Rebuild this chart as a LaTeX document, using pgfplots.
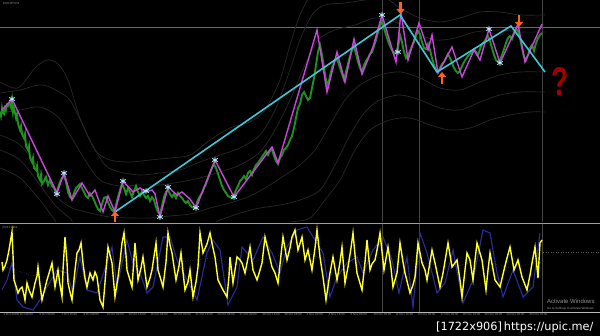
\documentclass[border=0pt]{standalone}
\usepackage{fontspec}
\setmainfont{Liberation Sans}
\newfontfamily\dejavu{DejaVu Sans}
\usepackage{pgfplots}
\pgfplotsset{compat=1.18}
\usetikzlibrary{arrows.meta}
\definecolor{cmag}{RGB}{204,68,221}
\definecolor{ccyan}{RGB}{64,200,216}
\definecolor{cgreen}{RGB}{30,145,30}
\definecolor{cstar}{RGB}{170,235,240}
\definecolor{corange}{RGB}{255,96,32}
\definecolor{cqred}{RGB}{160,0,0}
\definecolor{cband}{RGB}{40,40,40}
\definecolor{cyel}{RGB}{255,255,40}
\definecolor{cblue}{RGB}{44,44,160}
\definecolor{cgrid}{RGB}{70,70,70}
\definecolor{chline}{RGB}{105,105,105}
\definecolor{cdot}{RGB}{90,90,90}
\pgfplotsset{pix/.style={scale only axis, width=600pt, xmin=0, xmax=600, y dir=reverse,
  axis line style={draw=none}, xtick=\empty, ytick=\empty, clip=true}}
\begin{document}
\begin{tikzpicture}
% full frame
\begin{axis}[pix, height=336pt, ymin=0, ymax=336, at={(0,0)}, anchor=south west,
  axis background/.style={fill=black}]
\addplot[draw=gray!75, line width=1.3pt] coordinates {(0,223.5) (600,223.5)};
\addplot[draw=gray!55, line width=0.6pt] coordinates {(0,312.6) (600,312.6)};
\node[anchor=west, text=white, font=\dejavu\fontsize{11.3}{12}\selectfont, inner sep=0pt] at (axis cs:436,327) {[1722x906]\,https://upic.me/};
\end{axis}
% upper panel
\begin{axis}[pix, height=222pt, ymin=0, ymax=222, at={(0,114pt)}, anchor=south west]
\addplot[draw=chline, line width=0.6pt] coordinates {(0,27) (600,27)};
\addplot[draw=cgrid, line width=0.5pt] coordinates {(382,0) (382,222)};
\addplot[draw=cgrid, line width=0.5pt] coordinates {(419,0) (419,222)};
\addplot[draw=cgrid, line width=0.5pt] coordinates {(542,0) (542,222)};
% bands
\addplot[cband, line width=0.7pt, smooth] coordinates {(0,82)(18,88)(35,68)(47,60)(58,64)(68,80)(80,118)(95,150)(110,160)(130,162)(150,160)(170,158)(190,155)(210,140)(230,128)(250,122)(265,110)(280,80)(290,45)(300,15)(310,-5)};
\addplot[cband, line width=0.7pt, smooth] coordinates {(0,93)(20,90)(43,85)(67,97)(77,113)(90,140)(105,165)(120,172)(140,175)(160,173)(180,170)(200,162)(220,155)(240,148)(260,135)(275,110)(290,70)(300,40)(312,15)(325,5)(345,3)(365,0)(385,-2)(400,8)(420,18)(440,22)(460,18)(480,12)(500,12)(520,15)(545,15)};
\addplot[cband, line width=0.7pt, smooth] coordinates {(0,113)(20,110)(40,107)(58,117)(70,135)(85,160)(100,180)(120,186)(140,185)(160,185)(180,182)(200,178)(220,172)(240,165)(260,152)(275,130)(290,100)(305,65)(318,40)(335,30)(355,25)(375,18)(395,22)(415,32)(435,40)(455,38)(475,32)(500,30)(520,32)(545,32)};
\addplot[cband, line width=0.7pt, smooth] coordinates {(0,135)(20,145)(40,170)(55,195)(70,207)(90,213)(110,217)(130,218)(150,218)(170,216)(190,214)(210,208)(230,203)(250,196)(270,185)(285,175)(300,165)(315,150)(330,125)(345,100)(360,85)(380,75)(400,72)(420,78)(440,88)(460,90)(480,82)(500,75)(520,72)(545,72)};
\addplot[cband, line width=0.7pt, smooth] coordinates {(0,150)(20,160)(40,185)(55,205)(70,218)(85,225)(200,225)(220,220)(240,213)(260,208)(280,205)(300,200)(320,190)(335,165)(350,135)(365,112)(380,100)(400,95)(420,100)(440,108)(460,110)(480,102)(500,95)(520,92)(545,92)};
\addplot[cband, line width=0.7pt, smooth] coordinates {(0,168)(20,178)(40,200)(55,220)(65,228)(230,228)(260,225)(290,222)(310,218)(325,200)(340,180)(355,150)(370,130)(390,120)(410,118)(430,125)(450,130)(470,128)(490,120)(510,115)(530,112)(545,112)};
% price
\addplot[cgreen, line width=1.9pt] coordinates {
(0,112)(1,116)(2,108)(3,113)(4,114)(5,108)(6,110)(7,105)(8,106)(10,103)(11,107)(12,100)(13,112)(14,108)(16,118)(17,114)(18,124)(20,130)(21,126)(22,134)(24,138)(25,134)(26,146)(28,150)(29,146)(30,158)(32,162)(33,158)(34,168)(36,170)(37,166)(38,176)(40,180)(41,175)(42,184)(44,181)(46,177)(48,185)(50,180)(52,186)(54,188)(56,194)(58,188)(60,182)(62,178)(64,176)(66,182)(68,192)(70,197)(72,199)(74,193)(76,188)(78,186)(80,184)(82,188)(84,192)(86,196)(88,198)(90,193)(92,196)(94,200)(96,205)(98,209)(100,211)(102,204)(104,198)(106,197)(108,202)(110,207)(112,210)(114,212)(116,205)(118,197)(120,190)(122,184)(124,188)(126,194)(128,188)(130,192)(132,197)(134,191)(136,186)(138,192)(140,196)(142,191)(144,195)(146,198)(148,196)(150,201)(152,197)(154,200)(156,207)(158,212)(160,214)(162,206)(164,197)(166,192)(168,190)(170,194)(172,197)(174,194)(176,198)(178,193)(180,196)(182,198)(184,201)(186,203)(188,201)(190,205)(192,207)(194,208)(196,206)(198,200)(200,196)(202,193)(204,188)(206,184)(208,178)(210,173)(212,168)(214,164)(216,168)(218,174)(220,180)(222,186)(224,190)(226,193)(228,196)(230,197)(232,198)(234,195)(236,190)(238,186)(240,181)(242,179)(244,176)(246,179)(248,173)(250,171)(252,175)(254,169)(256,165)(258,163)(260,160)(262,157)(264,154)(266,151)(268,155)(270,151)(272,149)(274,156)(276,161)(278,164)(280,158)(282,155)(284,150)(286,148)(288,145)(290,140)(292,136)(294,128)(296,118)(298,108)(300,104)(302,95)(304,92)(306,96)(308,100)(310,98)(312,88)(314,78)(316,65)(318,52)(320,45)(322,55)(324,68)(326,80)(328,86)(330,76)(332,68)(334,63)(336,58)(338,62)(340,68)(342,74)(344,80)(346,72)(348,64)(350,56)(352,50)(354,46)(356,54)(358,62)(360,68)(362,72)(364,65)(366,61)(368,58)(370,54)(372,52)(374,46)(376,40)(378,32)(380,26)(382,21)(384,28)(386,35)(388,41)(390,46)(392,50)(394,54)(396,51)(398,48)(400,35)(402,42)(404,52)(406,58)(408,55)(410,51)(412,46)(414,42)(416,36)(418,31)(420,34)(422,42)(424,48)(426,49)(428,44)(430,50)(432,58)(434,65)(436,70)(438,72)(440,68)(442,64)(444,62)(446,58)(448,54)(450,58)(452,63)(454,68)(456,71)(458,73)(460,71)(462,66)(464,62)(466,59)(468,56)(470,54)(472,52)(474,49)(476,52)(478,55)(480,49)(482,44)(484,42)(486,39)(488,36)(490,41)(492,48)(494,55)(496,60)(498,62)(500,60)(502,55)(504,49)(506,43)(508,38)(510,36)(512,39)(514,34)(516,29)(518,31)(520,38)(522,48)(524,57)(526,60)(528,55)(530,48)(532,45)(534,51)(536,43)(538,38)(540,35)(542,33)};
% zigzag
\addplot[cmag, line width=1.4pt] coordinates {(2,110)(12,99)(57,193)(64,173)(72,200)(82,183)(90,196)(95,190)(103,212)(108,196)(115,212)(123,181)(133,192)(140,188)(146,192)(152,190)(155,194)(160,217)(168,187)(177,195)(182,192)(190,199)(196,208)(215,160)(234,197)(272,147)(278,163)(317,30)(327,92)(337,52)(345,82)(354,39)(362,74)(373,47)(382,15)(396,62)(401,12)(408,60)(419,23)(428,50)(432,35)(438,73)(452,47)(462,77)(474,50)(480,60)(489,29)(500,63)(518,24)(525,62)(542,24)};
\addplot[ccyan, line width=1.6pt] coordinates {(115,212)(400,15)(437,72)(511,26)(545,72)};
\addplot[only marks, mark=asterisk, mark size=3.2pt, cstar, mark options={line width=0.9pt}] coordinates {(12,99)(57,194)(64,173)(123,181)(146,191)(160,217)(168,187)(196,208)(215,160)(234,197)(382,15)(398,52)(489,29)(500,63)};
\addplot[corange, line width=2.6pt, -{Triangle[width=8pt,length=5pt]}] coordinates {(400.5,2)(400.5,14)};
\addplot[corange, line width=2.6pt, -{Triangle[width=8pt,length=5pt]}] coordinates {(519,15)(519,27)};
\addplot[corange, line width=2.6pt, -{Triangle[width=8pt,length=5pt]}] coordinates {(115,223)(115,211)};
\addplot[corange, line width=2.6pt, -{Triangle[width=8pt,length=5pt]}] coordinates {(442,84)(442,72)};
\node[text=cqred, font=\fontsize{40}{40}\selectfont\bfseries, xscale=0.7, inner sep=0pt] at (axis cs:560,82) {?};
\node[anchor=west, text=gray!80, font=\fontsize{3}{3}\selectfont, inner sep=0pt] at (axis cs:3,3.5) {EURJPY,H4};
\end{axis}
% lower panel
\begin{axis}[pix, height=88pt, ymin=224, ymax=312, at={(0,24pt)}, anchor=south west,
  xtick={3,17,39,61,83,106,128,150,173,195,217,239,262,284,306,328,350,373,395,417,440,462,484,506,529},
  xticklabels={1 Oct 2020,2 Oct 08:00,6 Oct 00:00,7 Oct 16:00,9 Oct 08:00,13 Oct 00:00,14 Oct 16:00,16 Oct 08:00,20 Oct 00:00,21 Oct 16:00,23 Oct 08:00,27 Oct 00:00,28 Oct 16:00,30 Oct 08:00,3 Nov 00:00,4 Nov 16:00,6 Nov 08:00,10 Nov 00:00,11 Nov 16:00,13 Nov 08:00,17 Nov 00:00,18 Nov 16:00,20 Nov 08:00,24 Nov 00:00,25 Nov 16:00},
  major tick length=0pt,
  xticklabel style={font=\fontsize{3}{3}\selectfont, text=gray!90, anchor=north west, inner sep=0.3pt, yshift=-1pt}]
\addplot[draw=cgrid, line width=0.5pt] coordinates {(382,224)(382,312)};
\addplot[draw=cgrid, line width=0.5pt] coordinates {(419,224)(419,312)};
\addplot[draw=cgrid, line width=0.5pt] coordinates {(542,224)(542,312)};
\addplot[draw=cdot, line width=0.5pt, dotted] coordinates {(0,265)(30,275)(60,280)(90,275)(120,265)(150,268)(180,262)(210,258)(240,265)(270,258)(300,250)(330,262)(360,262)(390,255)(420,262)(450,268)(480,260)(510,268)(542,262)};
\addplot[draw=cdot, line width=0.5pt, dotted] coordinates {(543,252)(600,252)};
\addplot[cblue, line width=1.1pt] coordinates {(2,290)(7,280)(12,263)(17,300)(23,307)(33,310)(40,300)(47,287)(57,270)(67,273)(73,293)(80,257)(87,290)(97,293)(107,263)(112,247)(117,287)(127,240)(133,263)(140,273)(147,293)(153,287)(163,237)(170,237)(177,260)(187,280)(197,300)(207,253)(213,240)(220,250)(228,305)(237,287)(242,247)(253,260)(263,237)(272,253)(280,273)(287,247)(297,230)(307,227)(315,240)(323,253)(330,297)(337,277)(347,263)(357,257)(363,273)(373,250)(383,237)(392,260)(399,293)(407,257)(413,307)(420,233)(427,253)(437,293)(445,283)(453,250)(463,303)(473,280)(483,230)(490,233)(497,273)(503,297)(513,270)(523,297)(533,287)(540,233)};
\addplot[cyel, line width=1.4pt] coordinates {(2,262)(3,270)(5,266)(7,260)(9,250)(12,232)(13,255)(14,280)(16,286)(18,293)(20,289)(22,287)(24,295)(25,300)(27,283)(29,290)(32,297)(35,283)(37,276)(38,267)(40,285)(42,300)(44,292)(47,280)(50,270)(52,263)(55,287)(58,270)(60,285)(62,297)(63,270)(65,237)(67,262)(68,283)(70,292)(72,300)(75,270)(77,253)(79,250)(81,243)(83,263)(85,278)(87,287)(90,273)(93,280)(95,272)(97,277)(100,300)(103,307)(106,270)(108,247)(110,255)(112,263)(115,297)(118,277)(120,262)(122,243)(124,233)(126,255)(127,270)(130,280)(132,287)(135,243)(138,280)(141,268)(143,257)(147,287)(150,278)(152,270)(156,243)(158,270)(161,280)(163,287)(166,262)(168,233)(170,245)(172,253)(176,280)(179,266)(181,253)(183,272)(185,290)(188,282)(190,270)(193,297)(196,282)(198,267)(200,233)(202,246)(203,253)(207,244)(210,233)(213,248)(215,257)(218,280)(223,290)(227,297)(229,276)(230,257)(233,283)(235,270)(237,257)(240,260)(242,263)(245,273)(248,258)(250,247)(253,270)(257,280)(260,270)(262,263)(265,237)(268,250)(272,267)(275,273)(278,283)(281,255)(283,237)(287,260)(290,248)(292,237)(295,230)(298,250)(302,237)(305,260)(308,250)(312,270)(315,248)(317,230)(320,257)(323,277)(326,300)(330,273)(333,257)(337,280)(340,262)(342,247)(345,283)(348,267)(351,248)(353,233)(355,255)(357,273)(362,290)(365,262)(367,240)(370,270)(372,264)(375,260)(378,245)(380,233)(384,270)(388,247)(391,268)(393,287)(397,273)(399,253)(400,243)(403,262)(405,273)(410,293)(413,285)(415,277)(418,243)(422,263)(425,270)(427,280)(430,262)(432,250)(435,263)(440,287)(443,273)(446,255)(448,243)(452,267)(457,260)(460,280)(462,297)(465,270)(467,253)(470,260)(473,280)(475,260)(477,243)(482,260)(486,290)(488,270)(490,253)(495,280)(500,287)(504,270)(507,258)(510,247)(514,270)(518,260)(522,277)(527,290)(530,275)(532,263)(535,247)(538,278)(540,243)(542,240)};
\node[anchor=west, text=gray!80, font=\fontsize{3}{3}\selectfont, inner sep=0pt] at (axis cs:2,227.5) {(3) 61.0951};
\node[anchor=west, text=gray!85, font=\fontsize{6}{7}\selectfont, inner sep=0pt] at (axis cs:547,301.5) {Activate Windows};
\node[anchor=west, text=gray!75, font=\fontsize{3}{4}\selectfont, inner sep=0pt] at (axis cs:547,308.5) {Go to Settings to activate Windows.};
\end{axis}
\pgfresetboundingbox
\path[use as bounding box] (0,0) rectangle (600pt,336pt);
\end{tikzpicture}
\end{document}
